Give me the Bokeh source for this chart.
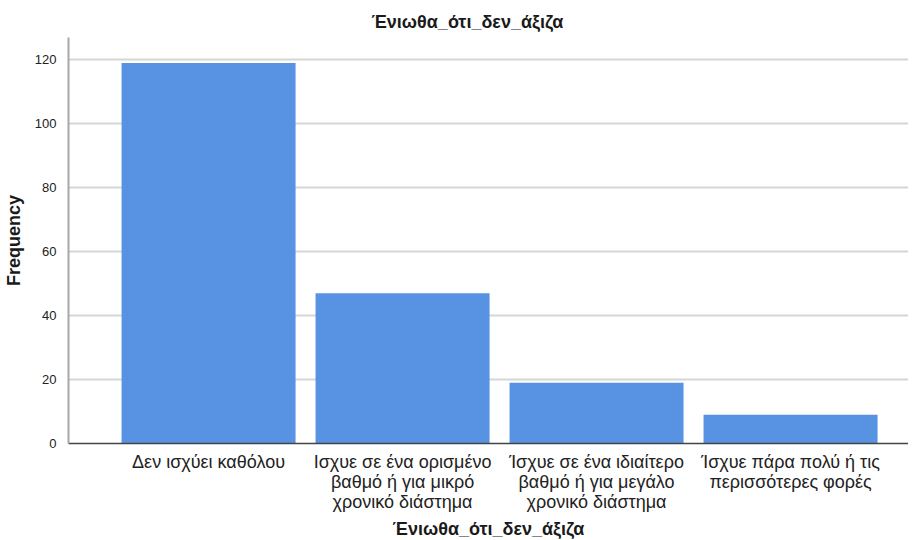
from bokeh.plotting import figure
from bokeh.models import FixedTicker, Range1d, ColumnDataSource
from bokeh.embed import file_html
from bokeh.resources import INLINE

title_text = "Ένιωθα_ότι_δεν_άξιζα"
categories = [
    "Δεν ισχύει καθόλου",
    "Ισχυε σε ένα ορισμένο\nβαθμό ή για μικρό\nχρονικό διάστημα",
    "Ίσχυε σε ένα ιδιαίτερο\nβαθμό ή για μεγάλο\nχρονικό διάστημα",
    "Ίσχυε πάρα πολύ ή τις\nπερισσότερες φορές",
]
counts = [119, 47, 19, 9]
y_ticks = [0, 20, 40, 60, 80, 100, 120]

positions = list(range(len(categories)))
src = ColumnDataSource(dict(x=positions, top=counts))

FONT = "Liberation Sans"

p = figure(frame_width=840, frame_height=406, output_backend="svg", toolbar_location=None,
           x_range=Range1d(-0.722, 3.608), y_range=Range1d(0, 127),
           min_border_left=60, min_border_right=0, min_border_top=37, min_border_bottom=89)
p.outline_line_color = None
p.background_fill_color = "white"
p.border_fill_color = "white"

p.title.text = title_text
p.title.align = "left"
p.title.offset = 303
p.title.standoff = 11
p.title.text_font = FONT
p.title.text_font_size = "18px"
p.title.text_font_style = "bold"
p.title.text_color = "#1a1a1a"

p.vbar(x="x", top="top", width=0.897, bottom=0, source=src,
       fill_color="#5893E3", line_color=None)

# x axis
p.xaxis.ticker = FixedTicker(ticks=positions)
p.xaxis.major_label_overrides = {i: c for i, c in zip(positions, categories)}
p.xaxis.major_label_text_font = FONT
p.xaxis.major_label_text_font_size = "18px"
p.xaxis.major_label_text_line_height = 1.0
p.xaxis.major_label_text_color = "#222222"
p.xaxis.major_label_standoff = 2
p.xaxis.major_tick_line_color = None
p.xaxis.minor_tick_line_color = None
p.xaxis.axis_line_color = "#444444"
p.xaxis.axis_line_width = 1.5
p.xaxis.axis_label = title_text
p.xaxis.axis_label_text_font = FONT
p.xaxis.axis_label_text_font_size = "18px"
p.xaxis.axis_label_text_line_height = 1.0
p.xaxis.axis_label_text_font_style = "bold"
p.xaxis.axis_label_text_color = "#1a1a1a"
p.xaxis.axis_label_standoff = 4

# y axis
p.yaxis.ticker = FixedTicker(ticks=y_ticks)
p.yaxis.major_label_text_font = FONT
p.yaxis.major_label_text_font_size = "13px"
p.yaxis.major_label_text_color = "#222222"
p.yaxis.major_label_standoff = 6
p.yaxis.major_tick_line_color = None
p.yaxis.minor_tick_line_color = None
p.yaxis.axis_line_color = "#a8a8a8"
p.yaxis.axis_line_width = 2
p.yaxis.axis_label = "Frequency"
p.yaxis.axis_label_text_font = FONT
p.yaxis.axis_label_text_font_size = "18px"
p.yaxis.axis_label_text_line_height = 1.0
p.yaxis.axis_label_text_font_style = "bold"
p.yaxis.axis_label_text_color = "#1a1a1a"
p.yaxis.axis_label_standoff = 8

p.xgrid.grid_line_color = None
p.ygrid.grid_line_color = "#d6d6d6"
p.ygrid.grid_line_width = 2

open("out.html", "w").write(file_html(p, INLINE))
